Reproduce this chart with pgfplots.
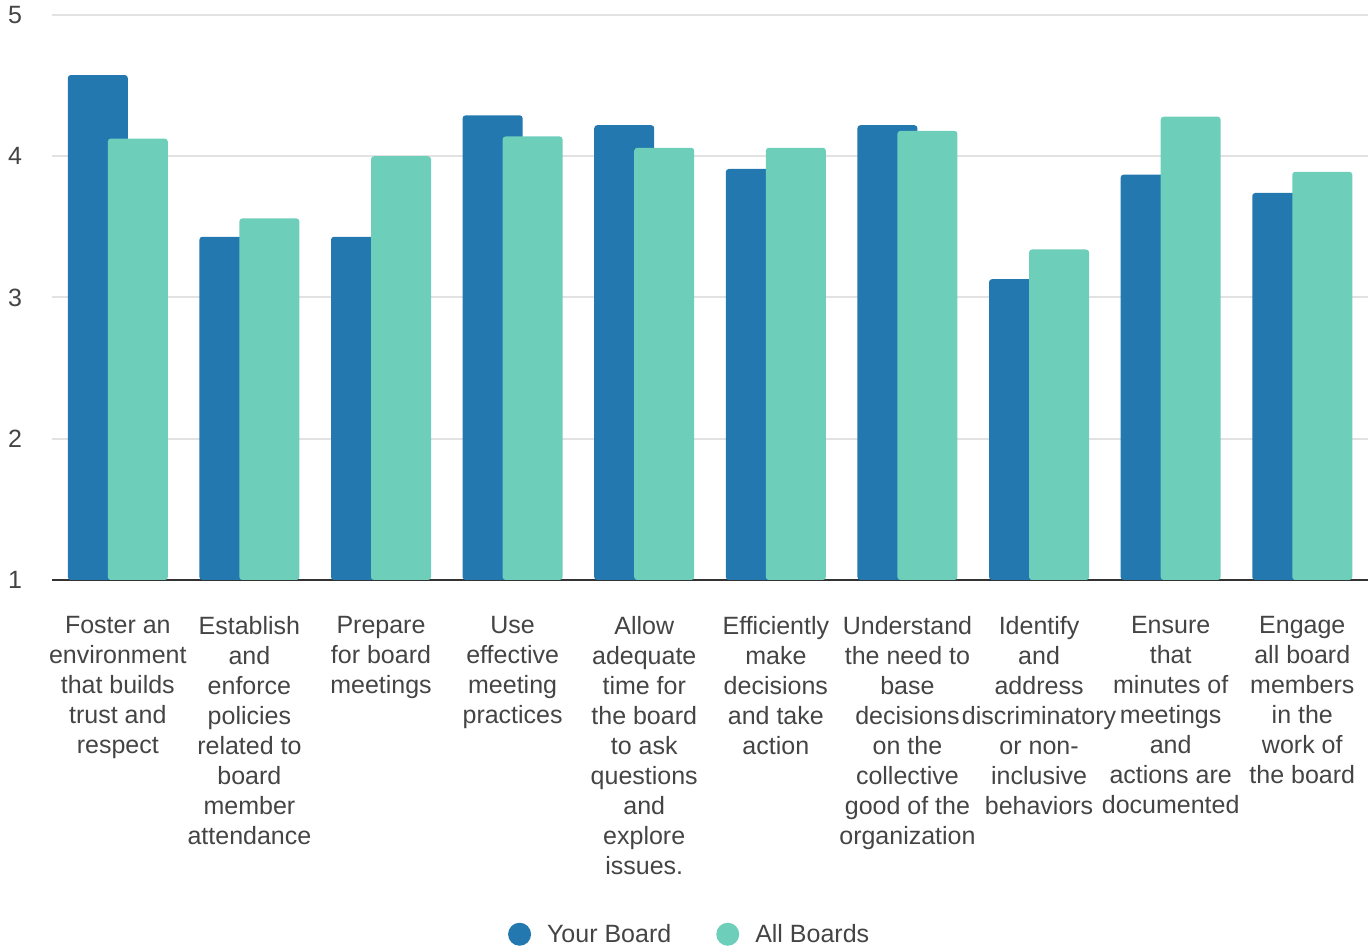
\documentclass[border=0pt]{standalone}
\usepackage{fontspec}
\setmainfont{Liberation Sans}
\usepackage{pgfplots}
\pgfplotsset{compat=1.18}
\definecolor{yb}{RGB}{35,120,176}
\definecolor{ab}{RGB}{109,206,185}
\definecolor{txt}{RGB}{68,68,68}
\definecolor{gridc}{RGB}{226,226,226}
\begin{document}
\begin{tikzpicture}
\begin{axis}[
 at={(52pt,370pt)}, anchor=south west,
 scale only axis, width=1316pt, height=565pt,
 xmin=-0.5, xmax=9.5, ymin=1, ymax=5,
 ytick={2,3,4,5}, extra y ticks={1},
 extra y tick style={grid style={draw=black!80, line width=2pt}},
 ymajorgrids, grid style={draw=gridc, line width=2pt},
 axis line style={draw=none}, major tick length=0pt,
 xtick={0,...,9},
 xticklabels={
  {Foster an\\environment\\that builds\\trust and\\respect},
  {Establish\\and\\enforce\\policies\\related to\\board\\member\\attendance},
  {Prepare\\for board\\meetings},
  {Use\\effective\\meeting\\practices},
  {Allow\\adequate\\time for\\the board\\to ask\\questions\\and\\explore\\issues.},
  {Efficiently\\make\\decisions\\and take\\action},
  {Understand\\the need to\\base\\decisions\\on the\\collective\\good of the\\organization},
  {Identify\\and\\address\\discriminatory\\or non-\\inclusive\\behaviors},
  {Ensure\\that\\minutes of\\meetings\\and\\actions are\\documented},
  {Engage\\all board\\members\\in the\\work of\\the board}},
 ybar, bar width=60pt,
 /pgf/number format/assume math mode=true,
 tick label style={font=\fontsize{25}{30}\selectfont, text=txt},
 yticklabel style={anchor=west, inner sep=0pt, xshift=-44pt},
 xticklabel style={anchor=north, align=center, inner sep=0pt, yshift=-36pt},
 legend style={at={(0.4845,-0.627)}, anchor=center, draw=none, fill=none,
   legend columns=2, font=\fontsize{25}{30}\selectfont, text=txt,
   /tikz/every odd column/.append style={column sep=14pt},
   /tikz/every even column/.append style={column sep=43pt}},
 legend cell align=left,
]
\addplot[fill=yb, draw=none, bar shift=-20pt, rounded corners=3pt,
  legend image code/.code={\fill[yb] (0pt,0pt) circle (11.5pt);}]
 coordinates {(0,4.575) (1,3.43) (2,3.43) (3,4.29) (4,4.22) (5,3.91) (6,4.22) (7,3.13) (8,3.87) (9,3.74)};
\addlegendentry{Your Board}
\addplot[fill=ab, draw=none, bar shift=20pt, rounded corners=3pt,
  legend image code/.code={\fill[ab] (0pt,0pt) circle (11.5pt);}]
 coordinates {(0,4.125) (1,3.56) (2,4.00) (3,4.14) (4,4.06) (5,4.06) (6,4.18) (7,3.34) (8,4.28) (9,3.89)};
\addlegendentry{All Boards}
\end{axis}
\pgfresetboundingbox
\useasboundingbox (0,0) rectangle (1371pt,950pt);
\end{tikzpicture}
\end{document}
